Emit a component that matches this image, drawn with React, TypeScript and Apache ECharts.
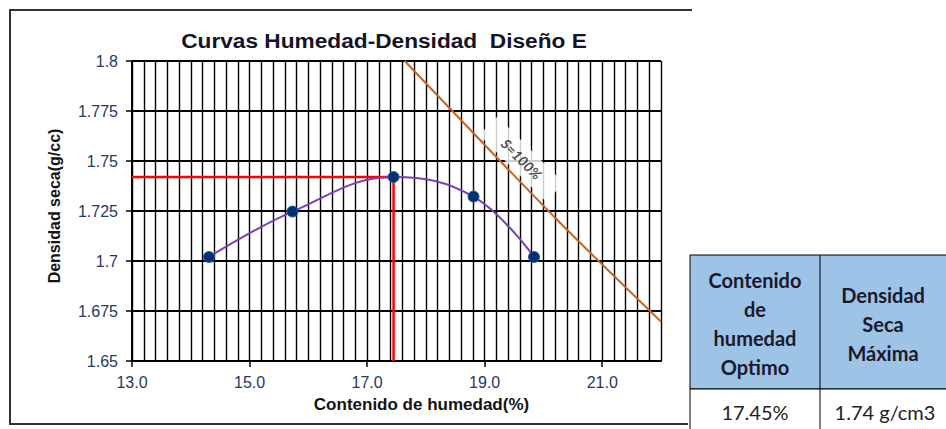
import React, { useEffect, useRef } from 'react';
import * as echarts from 'echarts';

// Compaction curve (moisture %, dry density g/cc)
const moisture = [14.31, 15.73, 17.45, 18.81, 19.84];
const density = [1.702, 1.7247, 1.742, 1.7322, 1.702];

// Zero air voids line (S = 100%)
const satMoisture = [17.64, 20.22, 22.0];
const satDensity = [1.8, 1.721, 1.6697];
const satLabel = 'S=100%';
const satLabelAt = [19.63, 1.751];

// Optimum values
const optimumMoisture = 17.45;
const maxDensity = 1.742;

// Axes
const xMin = 13;
const xMax = 22;
const xGridStep = 0.2;
const xTickLabels = [13, 15, 17, 19, 21];
const yMin = 1.65;
const yMax = 1.8;
const yStep = 0.025;

const title = 'Curvas Humedad-Densidad  Diseño E';
const xName = 'Contenido de humedad(%)';
const yName = 'Densidad seca(g/cc)';

const tableHeaders = ['Contenido\nde\nhumedad\nOptimo', 'Densidad\nSeca\nMáxima'];
const tableValues = [`${optimumMoisture.toFixed(2)}%`, `${maxDensity.toFixed(2)} g/cm3`];

const AX_FONT = '"Liberation Sans", Arial, sans-serif';
const TB_FONT = 'Lato, "Noto Sans", sans-serif';

export default function App() {
  const ref = useRef<HTMLDivElement>(null);
  useEffect(() => {
    const chart = echarts.init(ref.current!, null, { renderer: 'svg' });
    chart.setOption({
      animation: false,
      backgroundColor: '#fff',
      grid: { left: 132, top: 61, width: 529, height: 300, containLabel: false },
      xAxis: [
        {
          type: 'value',
          position: 'bottom',
          min: xMin,
          max: xMax,
          interval: xGridStep,
          axisLine: { show: true, lineStyle: { color: '#000', width: 2 } },
          axisTick: { show: false },
          axisLabel: { show: false },
          splitLine: { show: true, lineStyle: { color: '#000', width: 1.4 } },
          name: xName,
          nameLocation: 'middle',
          nameGap: 35,
          nameTextStyle: {
            fontFamily: AX_FONT,
            fontWeight: 'bold',
            fontSize: 17,
            color: '#141414',
            padding: [0, 0, 0, 50],
          },
        },
        {
          type: 'value',
          position: 'bottom',
          min: xMin,
          max: xMax,
          interval: 2,
          axisLine: { show: false },
          axisTick: {
            show: true,
            length: 6,
            customValues: xTickLabels,
            lineStyle: { color: '#000', width: 1.5 },
          },
          axisLabel: {
            show: true,
            customValues: xTickLabels,
            margin: 13,
            fontFamily: AX_FONT,
            fontSize: 16,
            color: '#24386a',
            formatter: (v: number) => v.toFixed(1),
          },
          splitLine: { show: false },
        },
      ],
      yAxis: {
        type: 'value',
        min: yMin,
        max: yMax,
        interval: yStep,
        axisLine: { show: true, lineStyle: { color: '#000', width: 2 } },
        axisTick: { show: true, length: 6, lineStyle: { color: '#000', width: 1.5 } },
        axisLabel: {
          margin: 14,
          fontFamily: AX_FONT,
          fontSize: 16,
          color: '#24386a',
          formatter: (v: number) => String(parseFloat(v.toFixed(3))),
        },
        splitLine: { show: true, lineStyle: { color: '#000', width: 2 } },
        name: yName,
        nameLocation: 'middle',
        nameGap: 70,
        nameTextStyle: {
          fontFamily: AX_FONT,
          fontWeight: 'bold',
          fontSize: 16,
          color: '#141414',
          padding: [0, 0, 0, 10],
        },
      },
      series: [
        {
          type: 'line',
          name: 'optimo',
          data: [
            [xMin, maxDensity],
            [optimumMoisture, maxDensity],
            [optimumMoisture, yMin],
          ],
          symbol: 'none',
          lineStyle: { color: '#ff0000', width: 2.5 },
          z: 3,
        },
        {
          type: 'line',
          name: 'saturacion',
          data: satMoisture.map((m, i) => [m, satDensity[i]]),
          symbol: 'none',
          smooth: 0.3,
          lineStyle: { color: '#c8641e', width: 2 },
          z: 3,
        },
        {
          type: 'line',
          name: 'curva',
          data: moisture.map((m, i) => [m, density[i]]),
          smooth: 0.4,
          symbol: 'circle',
          symbolSize: 11,
          lineStyle: { color: '#7b3fb8', width: 2 },
          itemStyle: { color: '#00306e', borderColor: '#1f5fb0', borderWidth: 1 },
          z: 5,
        },
        {
          type: 'scatter',
          name: 'label',
          data: [satLabelAt],
          symbolSize: 1,
          itemStyle: { color: 'transparent' },
          label: {
            show: true,
            position: 'inside',
            rotate: -45,
            formatter: satLabel,
            fontFamily: TB_FONT,
            fontStyle: 'italic',
            fontWeight: 'bold',
            fontSize: 14,
            color: '#1a1a1a',
            backgroundColor: '#fff',
            padding: [6, 22],
          },
          z: 2,
        },
      ],
      graphic: [
        {
          type: 'polyline',
          shape: { points: [[692, 10], [10, 10], [10, 424], [688, 424]] },
          style: { stroke: '#333', lineWidth: 2, fill: 'none' },
          z: 10,
        },
        {
          type: 'text',
          x: 384,
          y: 41,
          scaleX: 1.08,
          style: {
            text: title,
            align: 'center',
            verticalAlign: 'middle',
            font: `bold 21px ${AX_FONT}`,
            fill: '#141428',
          },
          z: 10,
        },
        {
          type: 'rect',
          shape: { x: 690, y: 255, width: 300, height: 134 },
          style: { fill: '#9dc3e6', stroke: '#000', lineWidth: 1 },
          z: 10,
        },
        {
          type: 'rect',
          shape: { x: 690, y: 389, width: 300, height: 60 },
          style: { fill: '#fff', stroke: '#000', lineWidth: 1 },
          z: 10,
        },
        {
          type: 'line',
          shape: { x1: 820, y1: 255, x2: 820, y2: 440 },
          style: { stroke: '#000', lineWidth: 1 },
          z: 11,
        },
        {
          type: 'text',
          x: 755,
          y: 323,
          style: {
            text: tableHeaders[0],
            align: 'center',
            verticalAlign: 'middle',
            lineHeight: 29,
            font: `bold 20px ${TB_FONT}`,
            fill: '#1a1a2e',
          },
          z: 12,
        },
        {
          type: 'text',
          x: 883,
          y: 324,
          style: {
            text: tableHeaders[1],
            align: 'center',
            verticalAlign: 'middle',
            lineHeight: 29,
            font: `bold 20px ${TB_FONT}`,
            fill: '#1a1a2e',
          },
          z: 12,
        },
        {
          type: 'text',
          x: 755,
          y: 412,
          style: {
            text: tableValues[0],
            align: 'center',
            verticalAlign: 'middle',
            font: `20px ${TB_FONT}`,
            fill: '#222',
          },
          z: 12,
        },
        {
          type: 'text',
          x: 885,
          y: 412,
          style: {
            text: tableValues[1],
            align: 'center',
            verticalAlign: 'middle',
            font: `20px ${TB_FONT}`,
            fill: '#222',
          },
          z: 12,
        },
      ],
    });
    return () => chart.dispose();
  }, []);
  return (
    <div
      ref={ref}
      style={{ position: 'fixed', left: 0, top: 0, width: 946, height: 429, background: '#fff' }}
    />
  );
}
